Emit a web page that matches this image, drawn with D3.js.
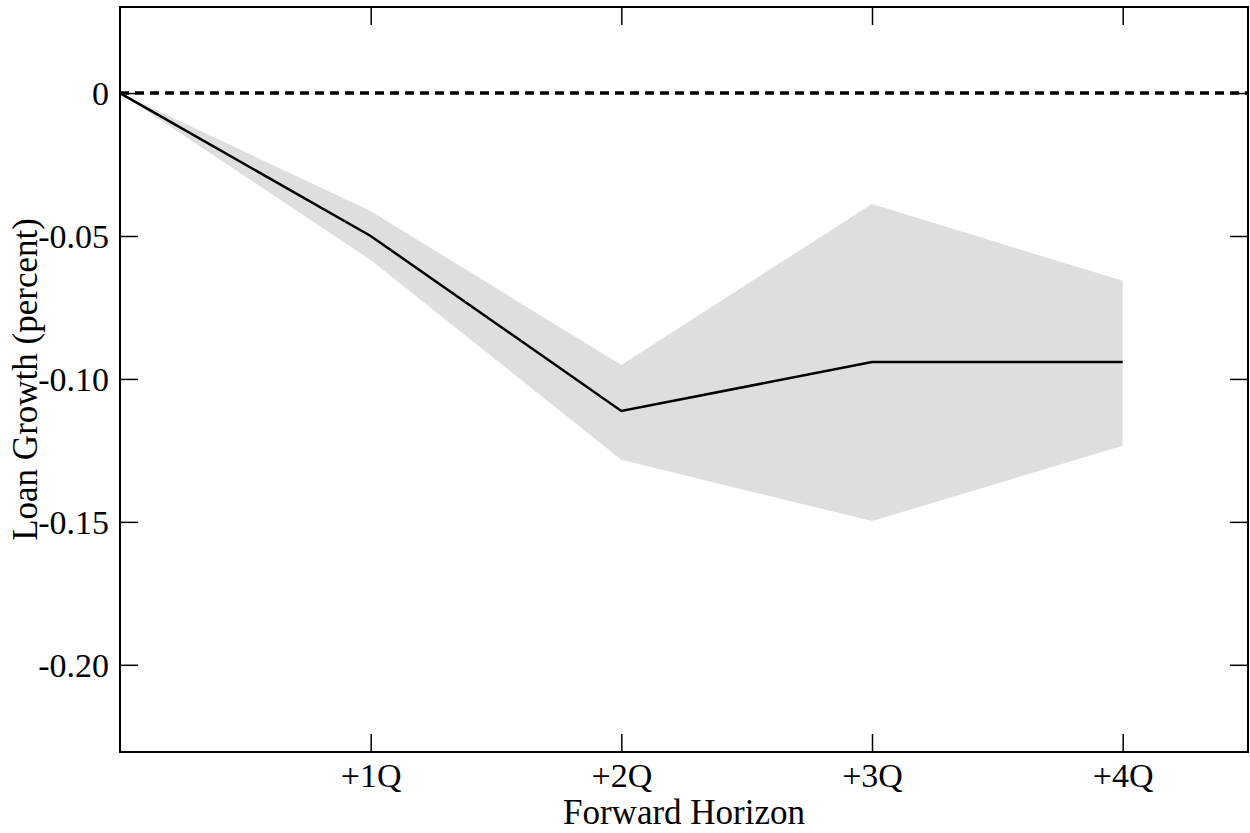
<!DOCTYPE html>
<html>
<head>
<meta charset="utf-8">
<script src="https://cdn.jsdelivr.net/npm/d3@7"></script>
<style>
  body { margin: 0; background: #fff; }
  text { font-family: "Liberation Serif", "DejaVu Serif", serif; fill: #000; }
  .axis path.domain { display: none; }
  .axis line { stroke: #000; stroke-width: 1.5; }
</style>
</head>
<body>
<div id="container"></div>
<script>
// horizons (quarters ahead) and estimates
const horizons = [0, 1, 2, 3, 4];
const xTickLabels = ['+1Q', '+2Q', '+3Q', '+4Q'];
const estimate = [0, -0.050, -0.1112, -0.0941, -0.0941];
const upper = [0, -0.0413, -0.0951, -0.0388, -0.0657];
const lower = [0, -0.0584, -0.1283, -0.1497, -0.1234];
const yTicks = [0, -0.05, -0.10, -0.15, -0.20];
const yTickLabels = ['0', '-0.05', '-0.10', '-0.15', '-0.20'];

const W = 1250, H = 833;
const margin = { left: 120, right: 2, top: 7, bottom: 81 };
const width = W - margin.left - margin.right;
const height = H - margin.top - margin.bottom;

const svg = d3.select('#container').append('svg')
  .attr('width', W)
  .attr('height', H);

const chart = svg.append('g')
  .attr('transform', `translate(${margin.left}, ${margin.top})`);

const x = d3.scaleLinear().domain([0, 4.5]).range([0, width]);
const y = d3.scaleLinear().domain([-0.2305, 0.0301]).range([height, 0]);

const rows = horizons.map((h, i) => ({ h, est: estimate[i], lo: lower[i], hi: upper[i] }));

// confidence band
chart.append('path')
  .datum(rows)
  .attr('fill', '#dedede')
  .attr('d', d3.area()
    .x(d => x(d.h))
    .y0(d => y(d.lo))
    .y1(d => y(d.hi)));

// zero line
chart.append('line')
  .attr('x1', 0).attr('x2', width)
  .attr('y1', y(0)).attr('y2', y(0))
  .attr('stroke', '#000')
  .attr('stroke-width', 3.5)
  .attr('stroke-dasharray', '9,6');

// point estimate
chart.append('path')
  .datum(rows)
  .attr('fill', 'none')
  .attr('stroke', '#000')
  .attr('stroke-width', 2.5)
  .attr('d', d3.line().x(d => x(d.h)).y(d => y(d.est)));

const tickLen = 18;

chart.append('g')
  .attr('class', 'axis')
  .attr('transform', `translate(0,${height})`)
  .call(d3.axisBottom(x)
    .tickValues([1, 2, 3, 4])
    .tickFormat((d, i) => xTickLabels[i])
    .tickSize(-tickLen)
    .tickPadding(11))
  .selectAll('text')
  .attr('font-size', 34);

chart.append('g')
  .attr('class', 'axis')
  .call(d3.axisTop(x)
    .tickValues([1, 2, 3, 4])
    .tickFormat('')
    .tickSize(-tickLen));

chart.append('g')
  .attr('class', 'axis')
  .call(d3.axisLeft(y)
    .tickValues(yTicks)
    .tickFormat((d, i) => yTickLabels[i])
    .tickSize(-tickLen)
    .tickPadding(11))
  .selectAll('text')
  .attr('font-size', 34)
  .attr('dy', '0.33em');

chart.append('g')
  .attr('class', 'axis')
  .attr('transform', `translate(${width},0)`)
  .call(d3.axisRight(y)
    .tickValues(yTicks)
    .tickFormat('')
    .tickSize(-tickLen));

// frame
chart.append('rect')
  .attr('width', width)
  .attr('height', height)
  .attr('fill', 'none')
  .attr('stroke', '#000')
  .attr('stroke-width', 2);

svg.append('text')
  .attr('x', margin.left + width / 2)
  .attr('y', 824)
  .attr('text-anchor', 'middle')
  .attr('font-size', 35)
  .text('Forward Horizon');

svg.append('text')
  .attr('transform', `translate(37,${margin.top + height / 2}) rotate(-90)`)
  .attr('text-anchor', 'middle')
  .attr('font-size', 35)
  .text('Loan Growth (percent)');
</script>
</body>
</html>
